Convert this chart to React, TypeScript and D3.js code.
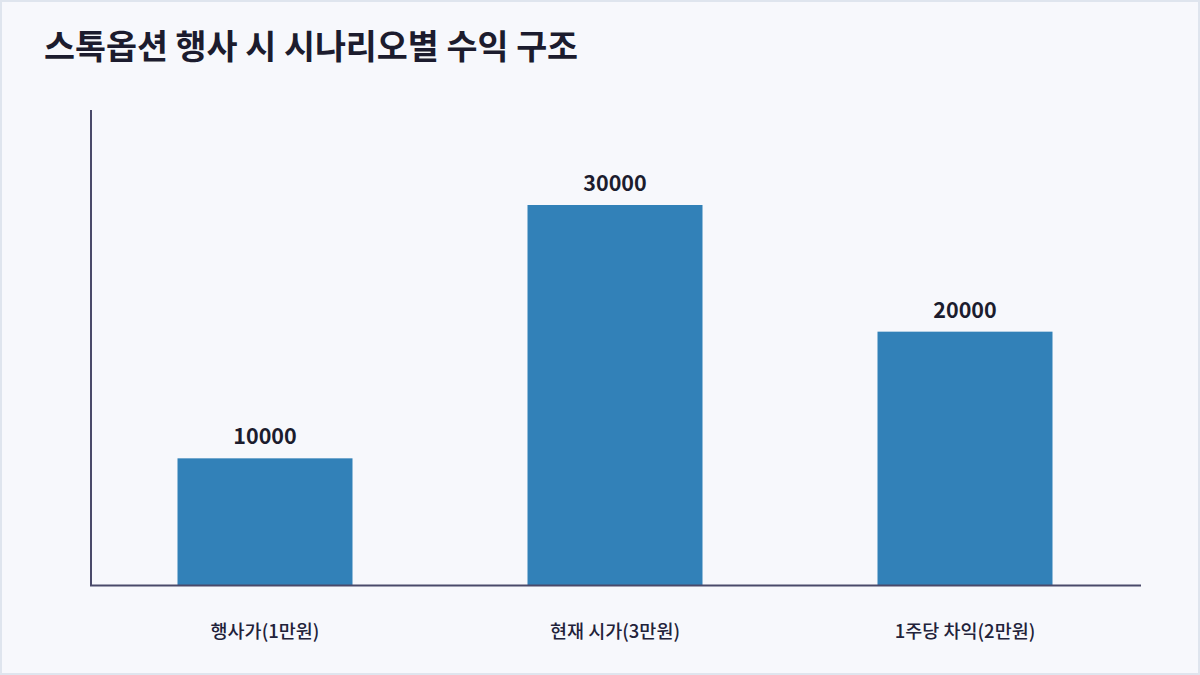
import React from "react";
import * as d3 from "d3";

const title = "스톡옵션 행사 시 시나리오별 수익 구조";
const categories = ["행사가(1만원)", "현재 시가(3만원)", "1주당 차익(2만원)"];
const values = [10000, 30000, 20000];

const W = 1200;
const H = 675;
const margin = { left: 90, right: 60, top: 110, bottom: 90 };

export default function App() {
  React.useEffect(() => {
    document.body.style.margin = "0";
  }, []);
  const x = d3
    .scaleBand<string>()
    .domain(categories)
    .range([margin.left, W - margin.right])
    .paddingInner(0.5)
    .paddingOuter(0.25);
  const y = d3
    .scaleLinear()
    .domain([0, (d3.max(values) as number) * 1.25])
    .range([H - margin.bottom, margin.top]);
  const font = "'Noto Sans CJK KR', 'Noto Sans', sans-serif";
  const y0 = y(0);
  return (
    <svg width={W} height={H} style={{ display: "block", fontFamily: font }}>
      <rect x={1} y={1} width={W - 2} height={H - 2} fill="#f7f8fc" stroke="#dfe5ee" strokeWidth={2} />
      <text x={44} y={59} fontSize={33.7} fontWeight={700} fill="#1c1c2e">
        {title}
      </text>
      {categories.map((c, i) => (
        <g key={c}>
          <rect
            x={x(c)}
            y={y(values[i])}
            width={x.bandwidth()}
            height={y0 - y(values[i])}
            fill="#3281b8"
          />
          <text
            x={(x(c) as number) + x.bandwidth() / 2}
            y={y(values[i]) - 14}
            textAnchor="middle"
            fontSize={21.5}
            fontWeight={700}
            fill="#1c1c2e"
          >
            {values[i]}
          </text>
          <text
            x={(x(c) as number) + x.bandwidth() / 2}
            y={y0 + 53}
            textAnchor="middle"
            fontSize={18.5}
            fontWeight={500}
            fill="#22223a"
          >
            {c}
          </text>
        </g>
      ))}
      <line x1={margin.left + 1} x2={margin.left + 1} y1={margin.top} y2={y0 + 1} stroke="#4a4a6a" strokeWidth={2} />
      <line x1={margin.left} x2={W - margin.right + 1} y1={y0 + 0.5} y2={y0 + 0.5} stroke="#4a4a6a" strokeWidth={2} />
    </svg>
  );
}
